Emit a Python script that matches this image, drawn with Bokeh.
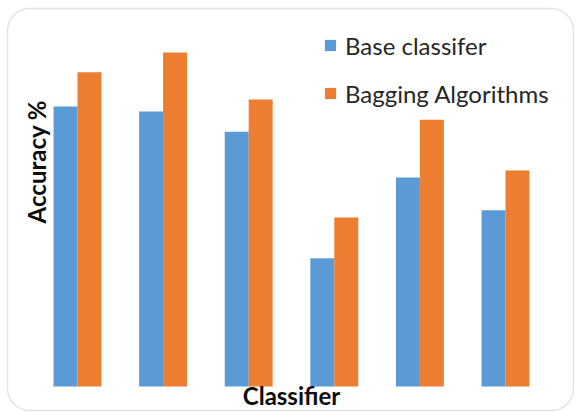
import math
from bokeh.plotting import figure
from bokeh.models import ColumnDataSource, FactorRange, Range1d, Legend, LegendItem, Label, BoxAnnotation
from bokeh.transform import dodge
from bokeh.embed import file_html
from bokeh.resources import INLINE

# Classifier groups (the axis carries no tick labels)
classifiers = ["C1", "C2", "C3", "C4", "C5", "C6"]
base_acc = [79.3, 77.9, 72.2, 36.3, 59.2, 49.9]
bagging_acc = [89.0, 94.6, 81.3, 47.9, 75.6, 61.2]

series_names = ["Base classifer", "Bagging Algorithms"]
x_title = "Classifier"
y_title = "Accuracy %"

BLUE = "#5B9BD5"
ORANGE = "#ED7D31"
FONT = "Lato"

src = ColumnDataSource(dict(cls=classifiers, base=base_acc, bag=bagging_acc))

# the plotting frame spans the whole card so titles and border stay inside it
p = figure(
    width=576, height=412,
    x_range=FactorRange(*classifiers, range_padding=0.3294, range_padding_units="absolute"),
    y_range=Range1d(-7.37, 109.35),
    output_backend="svg", toolbar_location=None,
    min_border_left=6, min_border_right=0, min_border_top=0, min_border_bottom=0,
)
p.outline_line_color = None
p.background_fill_color = "white"
p.border_fill_color = "white"
p.xgrid.visible = False
p.ygrid.visible = False
p.xaxis.visible = False
p.yaxis.visible = False

r1 = p.vbar(x=dodge("cls", -0.14, range=p.x_range), top="base", width=0.28,
            source=src, fill_color=BLUE, line_color=None)
r2 = p.vbar(x=dodge("cls", 0.14, range=p.x_range), top="bag", width=0.28,
            source=src, fill_color=ORANGE, line_color=None)

# axis titles
p.add_layout(Label(x=3.0, y=-2.55, text=x_title,
                   text_align="center", text_baseline="middle",
                   text_font=FONT, text_font_style="bold",
                   text_font_size="24px", text_color="#0d0d0d"))
p.add_layout(Label(x=0.021, y=63.7, text=y_title, angle=math.pi / 2,
                   text_align="center", text_baseline="middle",
                   text_font=FONT, text_font_style="bold",
                   text_font_size="24px", text_color="#0d0d0d"))

legend = Legend(
    items=[LegendItem(label=series_names[0], renderers=[r1]),
           LegendItem(label=series_names[1], renderers=[r2])],
    location=(317, 304), orientation="vertical",
    label_text_font=FONT, label_text_font_size="24px", label_text_color="#262626",
    glyph_width=14, glyph_height=14, label_standoff=8,
    label_height=30, spacing=18, padding=0, margin=0,
    border_line_color=None, background_fill_alpha=0,
)
p.add_layout(legend)

# rounded card border
p.add_layout(BoxAnnotation(left=7, right=573, top=8, bottom=410,
                           left_units="canvas", right_units="canvas",
                           top_units="canvas", bottom_units="canvas",
                           fill_color=None, line_color="#a6a6a6", line_width=1.5,
                           border_radius=22))

open("out.html", "w").write(file_html(p, INLINE))
